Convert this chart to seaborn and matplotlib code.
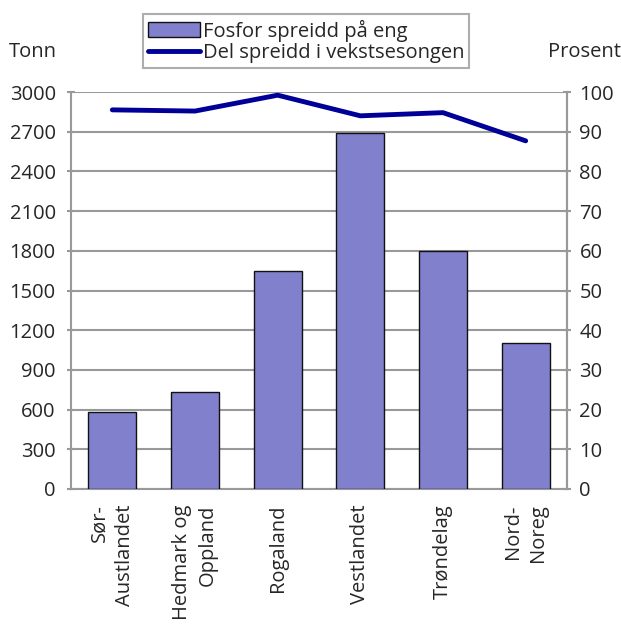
import numpy as np
import pandas as pd
import matplotlib
matplotlib.use("Agg")
import matplotlib.pyplot as plt
import seaborn as sns
from matplotlib.patches import Patch
from matplotlib.lines import Line2D

categories = ["Sør-\nAustlandet", "Hedmark og\nOppland", "Rogaland", "Vestlandet", "Trøndelag", "Nord-\nNoreg"]
fosfor = [580, 735, 1650, 2690, 1800, 1105]
del_pct = [95.5, 95.2, 99.2, 94.0, 94.8, 87.7]
left_ticks = [0, 300, 600, 900, 1200, 1500, 1800, 2100, 2400, 2700, 3000]
right_ticks = [0, 10, 20, 30, 40, 50, 60, 70, 80, 90, 100]

sns.set_style("white")
plt.rcParams['font.family'] = ['Open Sans', 'DejaVu Sans']
FS = 14.5

fig = plt.figure(figsize=(6.21, 6.24), dpi=100)
ax = fig.add_axes([71/621, 1-489/624, (567-71)/621, (489-92)/624])

df = pd.DataFrame({"region": categories, "fosfor": fosfor})
sns.barplot(data=df, x="region", y="fosfor", ax=ax, color="#8080CC", saturation=1,
            width=0.58, edgecolor="#111111", linewidth=1.0, zorder=3)

grid_c = "#999999"
ax.set_ylim(0, 3000)
ax.set_xlim(-0.5, 5.5)
ax.set_yticks(left_ticks)
ax.set_yticklabels([str(t) for t in left_ticks], fontsize=FS)
for t in left_ticks:
    ax.axhline(t, color=grid_c, lw=1.5, zorder=1)
ax.set_xticks(range(len(categories)))
ax.set_xticklabels(categories, rotation=90, fontsize=FS, ha="center", va="top",
                   multialignment="right", linespacing=1.35)
ax.tick_params(axis="x", which="major", length=0, pad=11)
ax.set_xticks(np.arange(-0.5, 6, 1), minor=True)
ax.tick_params(axis="x", which="minor", length=6, width=1.5, color=grid_c, direction="out")
ax.tick_params(axis="y", length=6, width=1.5, color=grid_c, direction="inout", pad=8)
ax.set_xlabel("")
ax.set_ylabel("")
ax.spines["top"].set_visible(False)
for s in ["left", "right", "bottom"]:
    ax.spines[s].set_color(grid_c)
    ax.spines[s].set_linewidth(1.5)

ax2 = ax.twinx()
sns.lineplot(x=np.arange(len(del_pct)), y=del_pct, ax=ax2, color="#000099", lw=3.5, zorder=4)
ax2.set_ylim(0, 100)
ax2.set_xlim(-0.5, 5.5)
ax2.set_yticks(right_ticks)
ax2.set_yticklabels([str(t) for t in right_ticks], fontsize=FS)
ax2.tick_params(axis="y", length=6, width=1.5, color=grid_c, direction="inout", pad=6)
ax2.set_ylabel("")
for s in ["top", "left", "bottom"]:
    ax2.spines[s].set_visible(False)
ax2.spines["right"].set_color(grid_c)
ax2.spines["right"].set_linewidth(1.5)

fig.text(33/621, 1-52/624, "Tonn", fontsize=FS, ha="center", va="center")
fig.text(585/621, 1-52/624, "Prosent", fontsize=FS, ha="center", va="center")

handles = [Patch(facecolor="#8080CC", edgecolor="#111111", linewidth=1.0),
           Line2D([0], [0], color="#000099", lw=3.5)]
labels = ["Fosfor spreidd på eng", "Del spreidd i vekstsesongen"]
leg = fig.legend(handles, labels, loc="center", bbox_to_anchor=(306/621, 1-41/624),
                 fontsize=FS, frameon=True, fancybox=False, handlelength=2.6,
                 handletextpad=0.15, borderpad=0.25, labelspacing=0.05)
leg.get_frame().set_edgecolor("#999999")
leg.get_frame().set_linewidth(1.5)

fig.savefig("out.png", dpi=100)
